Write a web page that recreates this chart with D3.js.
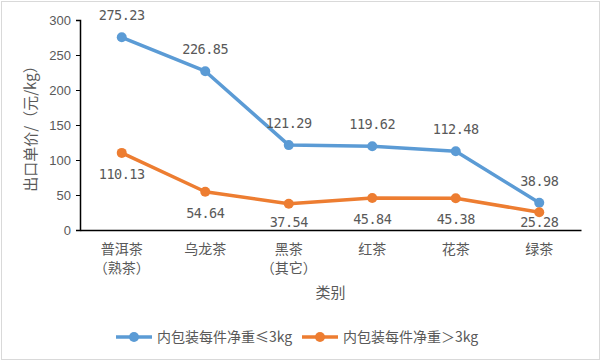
<!DOCTYPE html>
<html><head><meta charset="utf-8">
<script src="https://cdn.jsdelivr.net/npm/d3@7"></script>
<style>body{margin:0;background:#fff}svg{display:block}text{font-family:"Noto Sans CJK SC","DejaVu Sans",sans-serif;fill:#595959}</style>
</head><body><svg id="c" width="602" height="362"></svg>
<script>
const categories = [["普洱茶","（熟茶）"],["乌龙茶"],["黑茶","（其它）"],["红茶"],["花茶"],["绿茶"]];
const seriesNames = ["内包装每件净重≤3kg","内包装每件净重＞3kg"];
const lightValues = [275.23,226.85,121.29,119.62,112.48,38.98];
const heavyValues = [110.13,54.64,37.54,45.84,45.38,25.28];
const yTicks = [0,50,100,150,200,250,300];
const colors = ["#5B9BD5","#ED7D31"];

const svg = d3.select("#c");
svg.append("rect").attr("x",1.5).attr("y",1.5).attr("width",598).attr("height",358).attr("fill","#fff").attr("stroke","#d9d9d9");

const m = {l:80,r:581,t:20,b:230};
const x = d3.scaleBand().domain(d3.range(categories.length)).range([m.l,m.r]);
const y = d3.scaleLinear().domain([0,300]).range([m.b,m.t]);
const cx = i => x(i)+x.bandwidth()/2;

// y axis
const ya = svg.append("g").attr("transform",`translate(${m.l},0)`).call(d3.axisLeft(y).tickValues(yTicks).tickSize(4).tickPadding(5));
ya.select(".domain").attr("stroke","#000").attr("stroke-width",1.5);
ya.selectAll(".tick line").attr("stroke","#000");
ya.selectAll("text").style("font-size","13px").style("font-family","'Liberation Sans',sans-serif").attr("fill","#595959");

// x axis
const xa = svg.append("g").attr("transform",`translate(0,${m.b})`).call(d3.axisBottom(x).tickSize(0).tickFormat(""));
xa.select(".domain").attr("stroke","#000").attr("stroke-width",1.5);
categories.forEach((c,i)=>{
  c.forEach((t,j)=>{
    svg.append("text").attr("x",cx(i)).attr("y",m.b+24+j*19).attr("text-anchor","middle").style("font-size","14px").text(t);
  });
});

// titles
svg.append("text").attr("transform",`translate(32,${(m.t+m.b)/2}) rotate(-90)`).attr("text-anchor","middle").attr("dominant-baseline","middle").style("font-size","15px").text("出口单价/（元/kg）");
svg.append("text").attr("x",(m.l+m.r)/2).attr("y",298).attr("text-anchor","middle").style("font-size","15px").text("类别");

const line = d3.line().x((d,i)=>cx(i)).y(d=>y(d));
[lightValues,heavyValues].forEach((vals,s)=>{
  svg.append("path").datum(vals).attr("d",line).attr("fill","none").attr("stroke",colors[s]).attr("stroke-width",3.5).attr("stroke-linejoin","round");
  svg.selectAll(null).data(vals).enter().append("circle").attr("cx",(d,i)=>cx(i)).attr("cy",d=>y(d)).attr("r",5).attr("fill",colors[s]);
  svg.selectAll(null).data(vals).enter().append("text")
    .attr("x",(d,i)=>cx(i))
    .attr("y",d=> s===0 ? y(d)-17 : Math.min(y(d)+26, m.b-3))
    .attr("text-anchor","middle")
    .style("font-size","13.5px").style("font-family","'DejaVu Sans Mono',monospace").style("letter-spacing","-0.5px")
    .attr("fill","#404040")
    .text(d=>d.toFixed(2));
});

// legend
const lg = [{x:116,t:seriesNames[0]},{x:302,t:seriesNames[1]}];
lg.forEach((l,s)=>{
  svg.append("line").attr("x1",l.x).attr("x2",l.x+36).attr("y1",337).attr("y2",337).attr("stroke",colors[s]).attr("stroke-width",3.5);
  svg.append("circle").attr("cx",l.x+18).attr("cy",337).attr("r",5).attr("fill",colors[s]);
  svg.append("text").attr("x",l.x+41).attr("y",342).style("font-size",
  "14px").text(l.t);
});
</script></body></html>
